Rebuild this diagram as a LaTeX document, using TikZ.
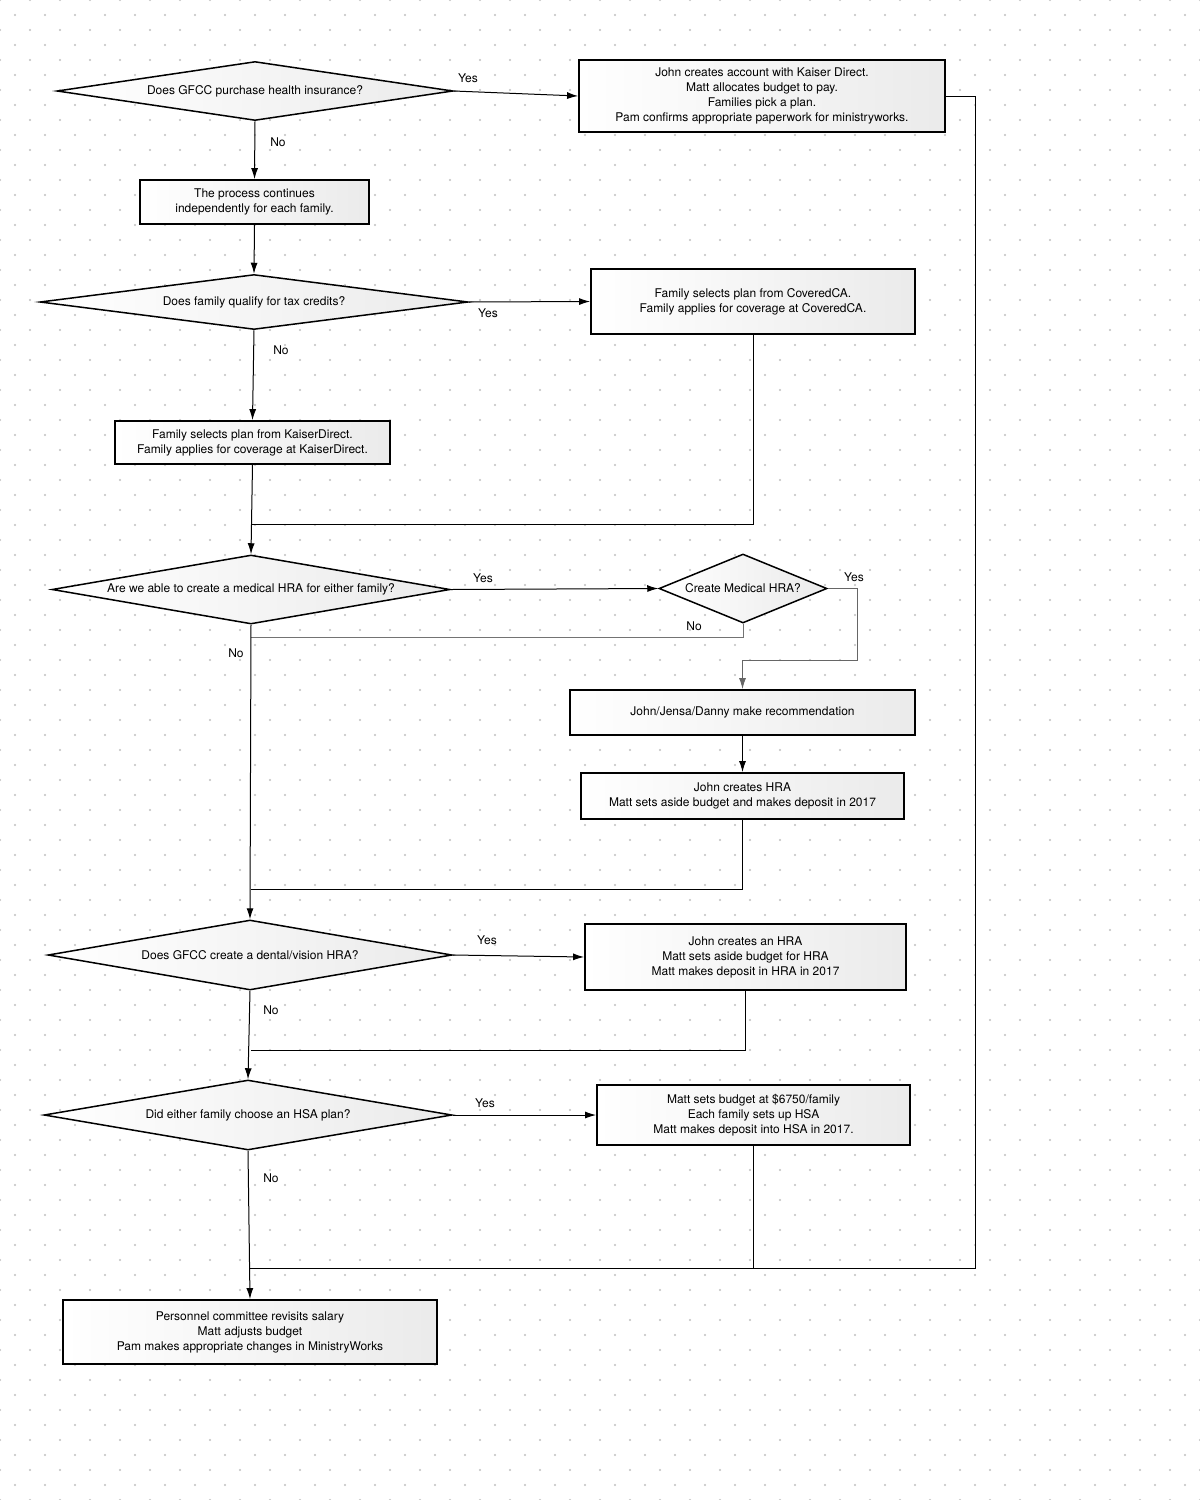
\documentclass[tikz,border=0pt]{standalone}
\usepackage{fontspec}
\setmainfont{TeX Gyre Heros}
\usetikzlibrary{shapes.geometric}
\usetikzlibrary{arrows.meta}

\tikzset{
  box/.style={draw=black, line width=1.8pt, left color=white, right color=gray!16, inner sep=0pt, align=center, font=\fontsize{12}{15}\selectfont},
  dia/.style={diamond, draw=black, line width=1.5pt, left color=white, right color=gray!16, inner sep=0pt, font=\fontsize{12}{15}\selectfont},
  link/.style={line width=1pt, draw=black},
  arr/.style={link, -{Latex[length=11pt,width=7pt]}},
  lbl/.style={font=\fontsize{12}{15}\selectfont, inner sep=0pt},
}

\begin{document}
\begin{tikzpicture}[x=1pt,y=-1pt]
  % Constants
  \pgfmathsetmacro\rail{975}
  \pgfmathsetmacro\loop{857}
  % Boundary
  \path[use as bounding box] (0,0) rectangle (1200,1500);
  \fill[white] (0,0) rectangle (1200,1500);
  % Dot grid
  \foreach \i in {0,...,40}{
    \foreach \j in {0,...,50}{
      \fill[gray!50] (30*\i,30*\j) circle (1.1pt) (30*\i+15,30*\j+15) circle (1.1pt);
    }
  }
  % Questions
  \node[dia, minimum width=396pt, minimum height=59pt, shape aspect=6.71] (purchase) at (255,91) {Does GFCC purchase health insurance?};
  \node[dia, minimum width=428pt, minimum height=55pt, shape aspect=7.78] (credits) at (254,302) {Does family qualify for tax credits?};
  \node[dia, minimum width=398pt, minimum height=69pt, shape aspect=5.77] (medhra) at (251,589.5) {Are we able to create a medical HRA for either family?};
  \node[dia, minimum width=168pt, minimum height=69pt, shape aspect=2.43] (createhra) at (743,588.5) {Create Medical HRA?};
  \node[dia, minimum width=404pt, minimum height=70pt, shape aspect=5.77] (dental) at (250,955) {Does GFCC create a dental/vision HRA?};
  \node[dia, minimum width=408pt, minimum height=70pt, shape aspect=5.83] (hsa) at (248,1115) {Did either family choose an HSA plan?};
  % Steps
  \node[box, minimum width=366pt, minimum height=72pt] (kaiser) at (762,96) {John creates account with Kaiser Direct.\\Matt allocates budget to pay.\\Families pick a plan.\\Pam confirms appropriate paperwork for ministryworks.};
  \node[box, minimum width=229pt, minimum height=44pt] (indep) at (254.5,202) {The process continues\\independently for each family.};
  \node[box, minimum width=324pt, minimum height=65pt] (covered) at (753,301.5) {Family selects plan from CoveredCA.\\Family applies for coverage at CoveredCA.};
  \node[box, minimum width=275pt, minimum height=43pt] (kdirect) at (252.5,442.5) {Family selects plan from KaiserDirect.\\Family applies for coverage at KaiserDirect.};
  \node[box, minimum width=345pt, minimum height=45pt] (recommend) at (742.5,712.5) {John/Jensa/Danny make recommendation};
  \node[box, minimum width=323pt, minimum height=46pt] (johnhra) at (742.5,796) {John creates HRA\\Matt sets aside budget and makes deposit in 2017};
  \node[box, minimum width=321pt, minimum height=66pt] (dentalhra) at (745.5,957) {John creates an HRA\\Matt sets aside budget for HRA\\Matt makes deposit in HRA in 2017};
  \node[box, minimum width=313pt, minimum height=60pt] (hsabudget) at (753.5,1115) {Matt sets budget at \$6750/family\\Each family sets up HSA\\Matt makes deposit into HSA in 2017.};
  \node[box, minimum width=374pt, minimum height=64pt] (personnel) at (250,1332) {Personnel committee revisits salary\\Matt adjusts budget\\Pam makes appropriate changes in MinistryWorks};
  % Join points
  \coordinate (j1) at (252,524);
  \coordinate (j2) at (\loop,660);
  \coordinate (j3) at (251,637);
  \coordinate (j4) at (251,889);
  \coordinate (j5) at (251,1050);
  \coordinate (j6) at (250,1268);
  \coordinate (c1) at (\rail,1268);
  % Connectors
  \draw[arr] (purchase.east) -- (kaiser.west);
  \draw[arr] (purchase.south) -- (indep.north);
  \draw[link] (kaiser.east) -| (c1) -- (j6);
  \draw[arr] (indep.south) -- (credits.north);
  \draw[arr] (credits.east) -- (covered.west);
  \draw[arr] (credits.south) -- (kdirect.north);
  \draw[link] (covered.south) |- (j1);
  \draw[arr] (kdirect.south) -- (medhra.north);
  \draw[arr] (medhra.east) -- (createhra.west);
  \draw[arr, draw=black!60] (createhra.east) -| (j2) -| (recommend.north);
  \draw[link, draw=black!55] (createhra.south) |- (j3);
  \draw[arr] (recommend.south) -- (johnhra.north);
  \draw[link] (johnhra.south) |- (j4);
  \draw[arr] (medhra.south) -- (dental.north);
  \draw[arr] (dental.east) -- (dentalhra.west);
  \draw[link] (dentalhra.south) |- (j5);
  \draw[arr] (dental.south) -- (hsa.north);
  \draw[arr] (hsa.east) -- (hsabudget.west);
  \draw[link] (hsabudget.south) |- (j6);
  \draw[arr] (hsa.south) -- (personnel.north);
  % Yes / No
  \node[lbl] (y1) at (468,78) {Yes};
  \node[lbl] (n1) at (278,142) {No};
  \node[lbl] (y2) at (488,313) {Yes};
  \node[lbl] (n2) at (281,350) {No};
  \node[lbl] (y3) at (483,578) {Yes};
  \node[lbl] (y4) at (854,577) {Yes};
  \node[lbl] (n4) at (694,626) {No};
  \node[lbl] (n3) at (236,653) {No};
  \node[lbl] (y5) at (487,940) {Yes};
  \node[lbl] (n5) at (271,1010) {No};
  \node[lbl] (y6) at (485,1103) {Yes};
  \node[lbl] (n6) at (271,1178) {No};
\end{tikzpicture}
\end{document}
